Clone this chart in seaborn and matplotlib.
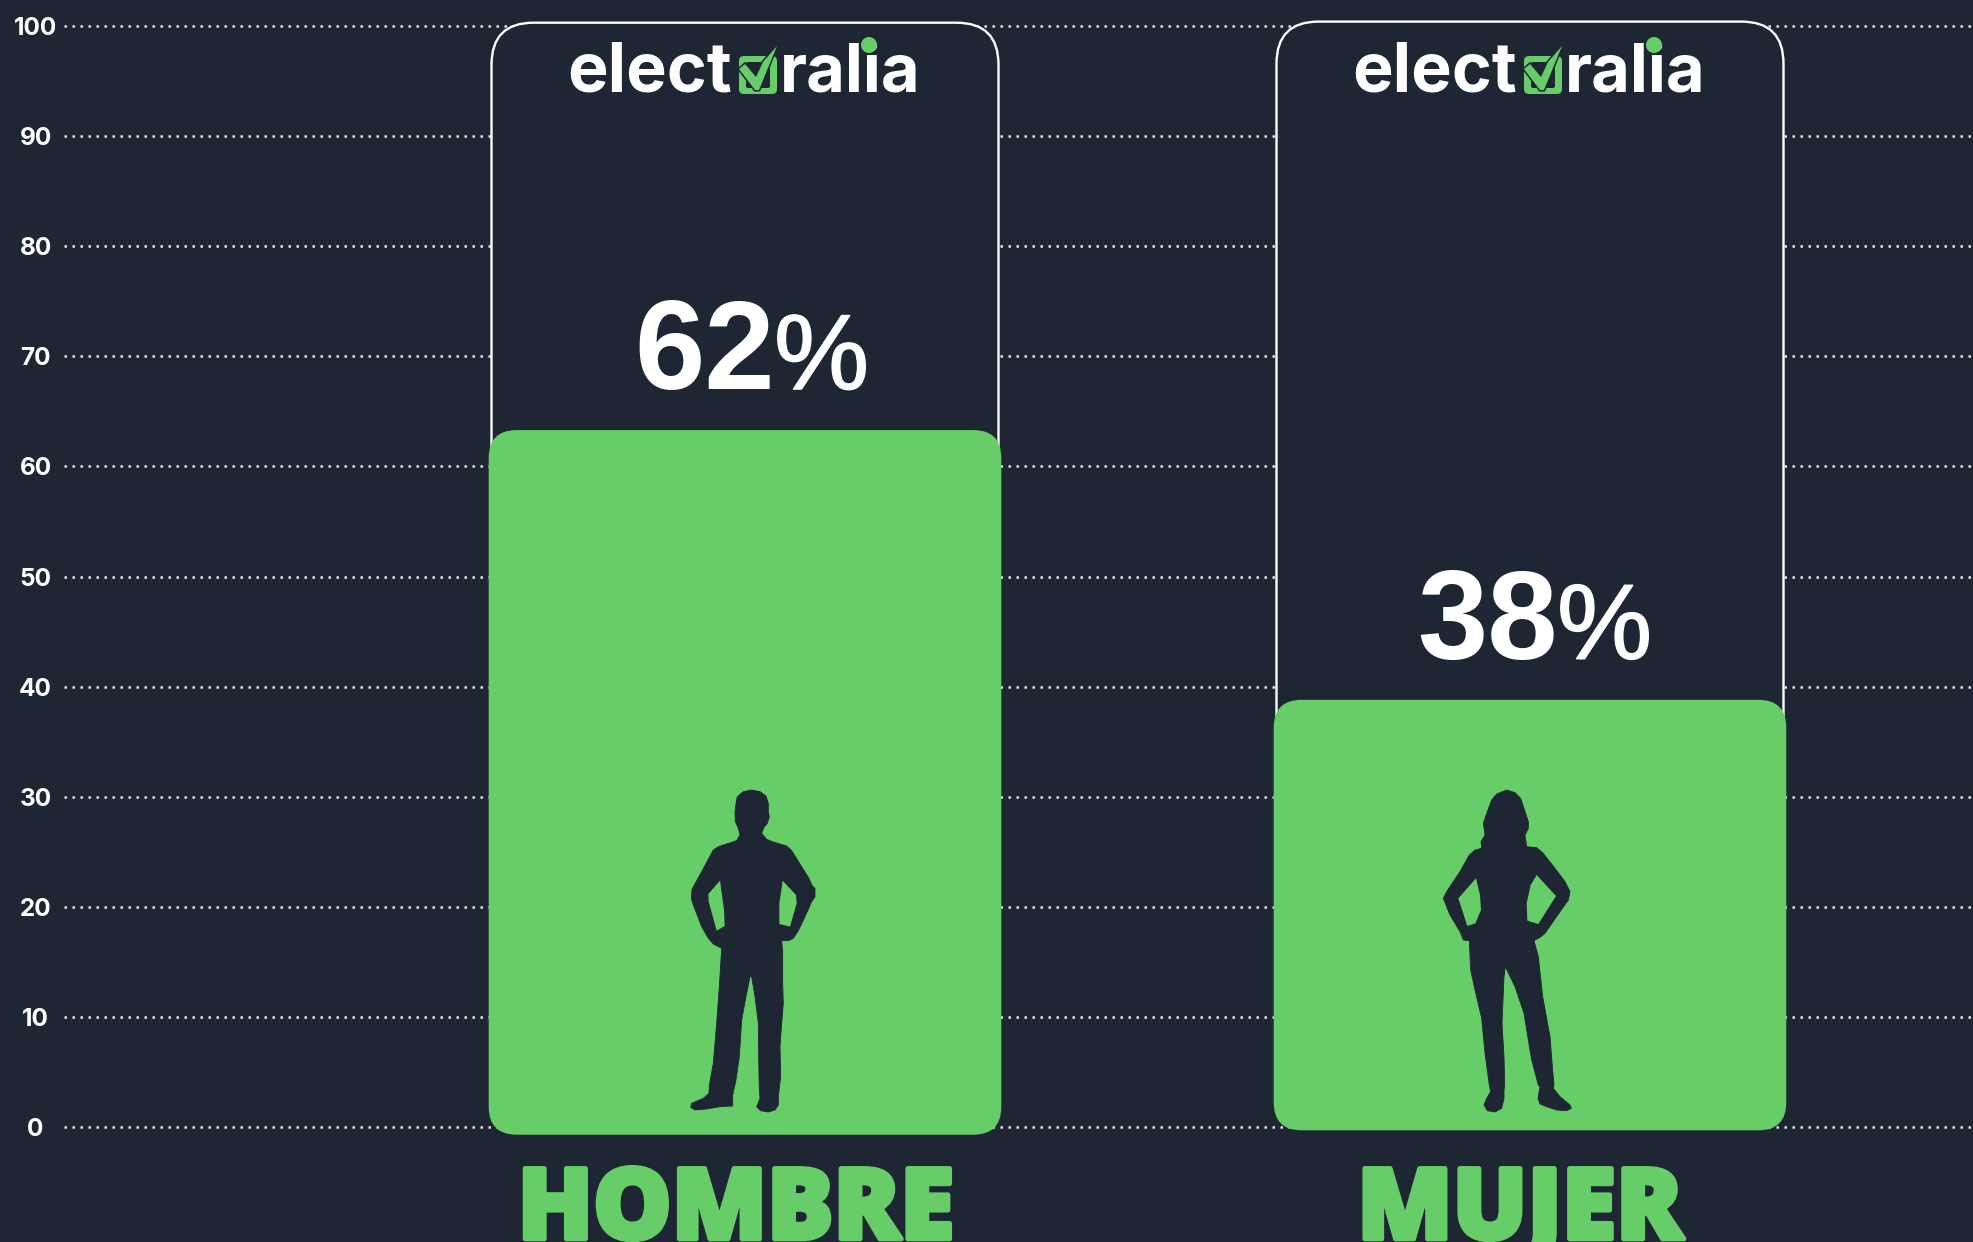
import matplotlib
matplotlib.use("Agg")
import numpy as np
import matplotlib.pyplot as plt
import matplotlib.patheffects as pe
from matplotlib.patches import FancyBboxPatch, Polygon, Circle
from matplotlib.transforms import Affine2D
import seaborn as sns

categories = ["HOMBRE", "MUJER"]
percent_labels = ["62", "38"]
bar_tops = [63.3, 38.8]
bar_bases = [-0.7, -0.3]
box_tops = [100.3, 100.4]
y_ticks = [0, 10, 20, 30, 40, 50, 60, 70, 80, 90, 100]

BG = "#1f2633"
GREEN = "#66cd69"
W, H = 1974, 1242

# silhouettes (x px from bar centre / 3x zoomed)
man = [(335,60),(360,65),(378,78),(385,100),(385,125),(388,140),(382,160),(372,172),(365,190),(380,208),(400,216),(440,228),(455,242),(480,282),(505,322),(517,348),(525,355),(525,380),(515,395),(495,440),(475,482),(460,505),(445,512),(425,512),(428,545),(428,640),(430,700),(425,760),(420,830),(422,920),(415,980),(415,1005),(405,1020),(385,1026),(362,1022),(350,1010),(360,985),(358,960),(356,860),(355,760),(345,680),(335,620),(330,620),(318,680),(305,750),(298,860),(288,930),(278,975),(278,1008),(240,1010),(200,1017),(165,1020),(152,1012),(155,1000),(190,985),(207,970),(208,945),(220,880),(230,760),(238,650),(245,535),(220,522),(205,505),(185,470),(160,405),(154,385),(156,358),(185,305),(220,240),(235,230),(290,212),(300,195),(295,175),(286,155),(285,128),(288,100),(292,80),(310,65)]
man_holes = [[(240,332),(205,372),(206,395),(230,482),(254,468),(252,420)],
             [(428,332),(468,375),(470,400),(450,470),(418,462),(418,400)]]
woman = [(320,60),(345,68),(362,85),(372,115),(385,155),(385,175),(375,195),(380,230),(410,233),(428,248),(465,295),(495,335),(510,365),(505,390),(480,425),(435,490),(420,502),(402,512),(415,560),(428,680),(450,800),(458,900),(462,945),(460,955),(480,980),(510,1005),(514,1015),(500,1022),(470,1020),(440,1010),(420,1002),(414,985),(420,950),(415,945),(395,870),(380,780),(372,730),(345,650),(316,590),(312,620),(306,760),(312,860),(314,945),(312,960),(312,985),(305,1015),(285,1026),(262,1022),(252,1005),(260,985),(272,965),(268,945),(255,850),(245,745),(225,660),(212,600),(208,512),(190,510),(180,485),(150,435),(130,385),(140,365),(180,305),(208,255),(225,240),(245,235),(243,215),(255,195),(250,160),(262,125),(275,90),(290,72)]
woman_holes = [[(228,325),(175,385),(202,468),(226,460),(243,420),(240,375)],
               [(410,315),(468,378),(415,462),(382,452),(380,400),(392,345)]]
people = [(man, man_holes, -105), (woman, woman_holes, -130)]

sns.set_theme(style="darkgrid", rc={"axes.facecolor": BG, "figure.facecolor": BG})
plt.rcParams["font.family"] = ["Inter", "Roboto", "DejaVu Sans"]

fig = plt.figure(figsize=(W / 100, H / 100), dpi=100)
ax = fig.add_axes([64 / W, (H - 1150) / H, (W - 64) / W, 1150 / H])

sns.barplot(x=categories, y=bar_tops, color=GREEN, saturation=1, width=0.653, ax=ax)
ax.set_xlim((64 - 745) / 785, (W - 745) / 785)
ax.set_ylim(-23 / 11.01, 1127 / 11.01)
ax.set_ylabel("")
ax.set_xlabel("")
sns.despine(ax=ax, left=True, bottom=True, right=True, top=True)

ax.set_axisbelow(True)
ax.grid(False, axis="x")
ax.grid(True, axis="y", color="#e4e6e8", linewidth=1.8, linestyle=(0, (1, 2.2)))
ax.set_yticks(y_ticks)
ax.tick_params(axis="y", length=0, pad=20.5)
for lab in ax.get_yticklabels():
    lab.set_color("white")
    lab.set_fontsize(17.5)
    lab.set_fontweight("bold")
    lab.set_ha("center")

ax.set_xticks(np.arange(2) + np.array([-9, -10]) / 785)
ax.set_xticklabels(categories, family=["Open Sans", "DejaVu Sans"], fontweight=800, fontsize=71, color=GREEN, va="baseline")
ax.tick_params(axis="x", length=0, pad=64)
for lab in ax.get_xticklabels():
    lab.set_path_effects([pe.withStroke(linewidth=3.5, foreground=GREEN)])

aspect = (1 / 11.01) / (1 / 785)
for i, bar in enumerate(list(ax.patches)):
    x0, w = bar.get_x(), bar.get_width()
    bar.remove()
    # white outline box behind the bar, hides the grid
    ax.add_patch(FancyBboxPatch((i - 507 / 2 / 785, 0), 507 / 785, box_tops[i],
                                boxstyle=f"round,pad=0,rounding_size={42 / 785}",
                                mutation_aspect=aspect, fc=BG, ec="white", lw=1.7, zorder=2))
    ax.add_patch(FancyBboxPatch((x0, bar_bases[i]), w, bar_tops[i] - bar_bases[i],
                                boxstyle=f"round,pad=0,rounding_size={28 / 785}",
                                mutation_aspect=aspect, fc=GREEN, ec="none", zorder=3))

fig.canvas.draw()
for i, (body, holes, ox) in enumerate(people):
    cx = ax.transData.transform((i, 0))[0]
    # pixels from the bar centre, y down from the picture top
    px = Affine2D().scale(1, -1).translate(cx, H)
    # values sit a fixed distance above the bar
    top_y = H - ax.transData.transform((i, bar_tops[i]))[1]
    nudge = -2 * i
    ax.text(30 + nudge, top_y - 41, percent_labels[i], transform=px, ha="right", va="baseline",
            family="Liberation Sans", fontweight="bold", fontsize=91, color="white", zorder=5)
    pct = ax.text(29 + nudge, top_y - 41, "%", transform=px, ha="left", va="baseline",
                  family="Liberation Sans", fontsize=77, color="white", zorder=5)
    pct.set_path_effects([pe.withStroke(linewidth=1, foreground="white")])

    # logo
    ax.text(-13, 92, "elect", transform=px, ha="right", va="baseline", fontweight="bold",
            fontsize=49, color="white", zorder=5)
    ax.text(35, 92, "ralia", transform=px, ha="left", va="baseline", fontweight="bold",
            fontsize=48, color="white", zorder=5)
    ax.add_patch(Circle((124, 45), 8, transform=px, fc=GREEN, ec="none", zorder=6))
    ax.add_patch(FancyBboxPatch((-6, 56), 38, 38, boxstyle="round,pad=0,rounding_size=5",
                                transform=px, fc=GREEN, ec="none", zorder=5))
    ax.add_patch(FancyBboxPatch((1, 62), 24, 26, boxstyle="round,pad=0,rounding_size=2",
                                transform=px, fc=BG, ec="none", zorder=6))
    check = [(32, 46), (14, 90), (10, 90), (-6, 69), (0, 64), (11, 77), (18, 62)]
    ax.add_patch(Polygon(check, closed=True, transform=px, fc=BG, ec=BG, lw=2.2, zorder=7))
    ax.add_patch(Polygon(check, closed=True, transform=px, fc=GREEN, ec="none", zorder=8))

    # person
    to_px = lambda pts: [(ox + a / 3, 770 + b / 3) for a, b in pts]
    ax.add_patch(Polygon(to_px(body), closed=True, transform=px, fc=BG, ec=BG, lw=0.6, joinstyle="round", zorder=5))
    for hole in holes:
        ax.add_patch(Polygon(to_px(hole), closed=True, transform=px, fc=GREEN, ec="none", zorder=6))

fig.savefig("out.png", dpi=100, facecolor=BG)
